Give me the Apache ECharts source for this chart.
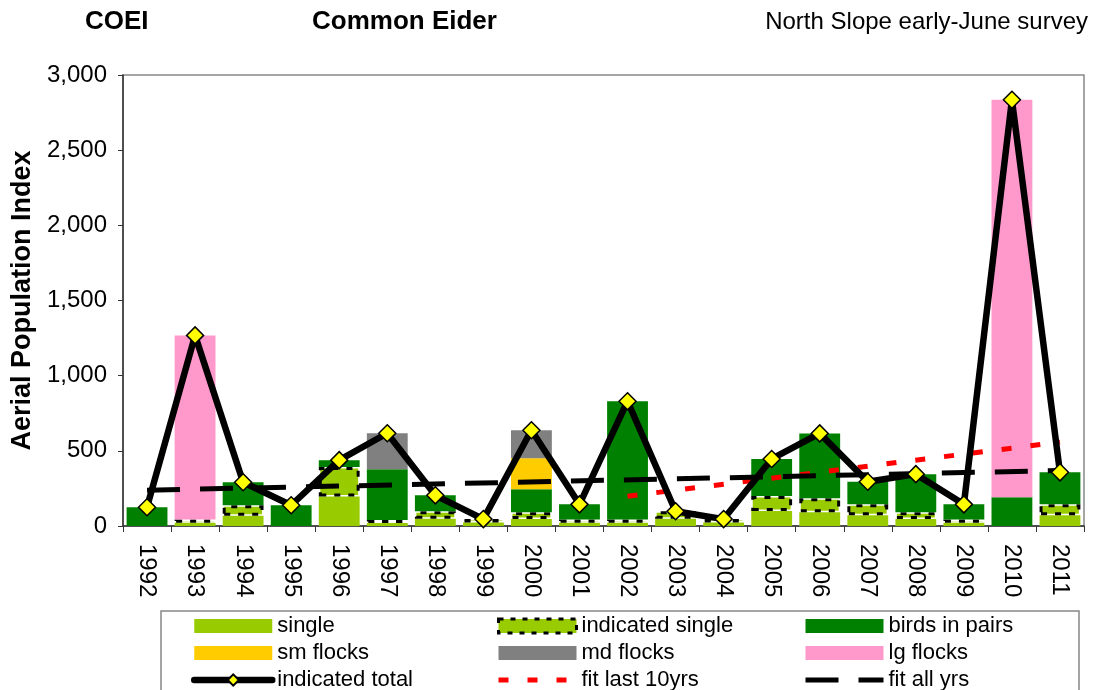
<!DOCTYPE html>
<html lang="en">
<head>
<meta charset="UTF-8">
<title>COEI Common Eider</title>
<script src="https://cdn.jsdelivr.net/npm/echarts@6/dist/echarts.min.js"></script>
<style>
    *{
        margin: 0;
        padding: 0;
    }
    #chart{
        width: 1094px;
        height: 690px;
        background: #fff;
    }
</style>
</head>
<body>
<div id="chart"></div>
<script>
var years = ['1992','1993','1994','1995','1996','1997','1998','1999','2000','2001',
             '2002','2003','2004','2005','2006','2007','2008','2009','2010','2011'];
var single     = [0, 22, 69, 0, 197, 20, 49, 23, 46, 22, 22, 49, 23, 100, 92, 72, 46, 22, 0, 72];
var indSingle  = [0, 22, 69, 0, 196, 20, 49, 23, 46, 22, 22, 49, 23, 100, 92, 72, 46, 22, 0, 72];
var pairs      = [125, 0, 153, 138, 44, 337, 106, 0, 152, 100, 786, 0, 0, 246, 432, 150, 253, 100, 191, 213];
var smFlocks   = [0, 0, 0, 0, 0, 0, 0, 0, 206, 0, 0, 0, 0, 0, 0, 0, 0, 0, 0, 0];
var mdFlocks   = [0, 0, 0, 0, 0, 240, 0, 0, 187, 0, 0, 0, 0, 0, 0, 0, 0, 0, 0, 0];
var lgFlocks   = [0, 1224, 0, 0, 0, 0, 0, 0, 0, 0, 0, 0, 0, 0, 0, 0, 0, 0, 2644, 0];
var indTotal   = [125, 1268, 291, 138, 438, 617, 204, 46, 637, 144, 830, 98, 46, 446, 616, 294, 345, 144, 2835, 357];
var fitLast10  = ['-','-','-','-','-','-','-','-','-','-', 198, '-','-','-','-','-','-','-','-', 558];
var fitAll     = [238, '-','-','-','-','-','-','-','-','-','-','-','-','-','-','-','-','-','-', 369];

var FONT = '"Liberation Sans", Arial, sans-serif';

function emptyZero(arr){
    return arr.map(function(v){ return v ? v : '-'; });
}
function commas(v){
    return String(v).replace(/\B(?=(\d{3})+(?!\d))/g, ',');
}
function barSeries(name, data, color, extra){
    var s = {
        type: 'bar',
        name: name,
        stack: 'all',
        data: emptyZero(data),
        barCategoryGap: '15%',
        itemStyle: { color: color },
        z: 2
    };
    if (extra) { for (var k in extra) { s.itemStyle[k] = extra[k]; } }
    return s;
}

var legendText = { fontFamily: FONT, fontSize: 22, color: '#000', lineHeight: 26 };
function legendCol(items, left){
    return {
        orient: 'vertical',
        left: left,
        top: 613,
        height: 100,
        itemWidth: 78,
        itemHeight: 14,
        itemGap: 1,
        padding: 0,
        textStyle: legendText,
        lineStyle: { width: 'inherit', type: 'inherit' },
        selectedMode: false,
        data: items
    };
}
// plain line icon: hide the default circle that ECharts adds for symbol-less lines
var noMark = { opacity: 0 };

var myChart = echarts.init(document.getElementById('chart'));
var option = {
    animation: false,
    backgroundColor: '#fff',
    textStyle: { fontFamily: FONT },
    title: [
        { text: 'COEI', left: 85, top: 9, padding: 0,
          textStyle: { fontFamily: FONT, fontSize: 26, fontWeight: 'bold', color: '#000' } },
        { text: 'Common Eider', left: 312, top: 9, padding: 0,
          textStyle: { fontFamily: FONT, fontSize: 26, fontWeight: 'bold', color: '#000' } },
        { text: 'North Slope early-June survey', right: 6, top: 10, padding: 0,
          textStyle: { fontFamily: FONT, fontSize: 24, fontWeight: 'normal', color: '#000' } }
    ],
    grid: {
        left: 123, right: 10, top: 75, bottom: 164,
        show: true, borderColor: '#888', borderWidth: 1.5
    },
    legend: [
        legendCol([
            { name: 'single', icon: 'rect' },
            { name: 'sm flocks', icon: 'rect' },
            { name: 'indicated total' }
        ], 191),
        legendCol([
            { name: 'indicated single', icon: 'rect',
              itemStyle: { color: '#99CC00', borderColor: '#000', borderWidth: 3, borderType: [5, 7] } },
            { name: 'md flocks', icon: 'rect' },
            { name: 'fit last 10yrs', itemStyle: noMark }
        ], 496),
        legendCol([
            { name: 'birds in pairs', icon: 'rect' },
            { name: 'lg flocks', icon: 'rect' },
            { name: 'fit all yrs', itemStyle: noMark }
        ], 803)
    ],
    graphic: [{
        type: 'rect',
        shape: { x: 161, y: 611, width: 918, height: 100 },
        style: { fill: 'none', stroke: '#888', lineWidth: 1.5 },
        z: -1
    }],
    xAxis: {
        type: 'category',
        data: years,
        boundaryGap: true,
        axisLine: { lineStyle: { color: '#333', width: 1.5 } },
        axisTick: { show: true, length: 6, lineStyle: { color: '#333' } },
        axisLabel: { rotate: -90, margin: 18, fontSize: 24, color: '#000', fontFamily: FONT }
    },
    yAxis: {
        type: 'value',
        min: 0,
        max: 3000,
        interval: 500,
        name: 'Aerial Population Index',
        nameLocation: 'middle',
        nameGap: 82,
        nameTextStyle: { fontFamily: FONT, fontSize: 27, fontWeight: 'bold', color: '#000' },
        splitLine: { show: false },
        axisLine: { show: true, lineStyle: { color: '#333', width: 1.5 } },
        axisTick: { show: true, length: 5, lineStyle: { color: '#333' } },
        axisLabel: { margin: 16, fontSize: 24, color: '#000', fontFamily: FONT, formatter: commas }
    },
    series: [
        barSeries('single', single, '#99CC00'),
        barSeries('indicated single', indSingle, '#99CC00',
            { borderColor: '#000', borderWidth: 3, borderType: [6, 8] }),
        barSeries('birds in pairs', pairs, '#008000'),
        barSeries('sm flocks', smFlocks, '#FFCC00'),
        barSeries('md flocks', mdFlocks, '#808080'),
        barSeries('lg flocks', lgFlocks, '#FF99CC'),
        {
            type: 'line',
            name: 'fit last 10yrs',
            data: fitLast10,
            connectNulls: true,
            symbol: 'none',
            lineStyle: { color: '#FF0000', width: 5, type: [10, 19], cap: 'butt' },
            itemStyle: { color: '#FF0000' },
            z: 3
        },
        {
            type: 'line',
            name: 'fit all yrs',
            data: fitAll,
            connectNulls: true,
            symbol: 'none',
            lineStyle: { color: '#000', width: 5, type: [33, 20], cap: 'butt' },
            itemStyle: { color: '#000' },
            z: 3
        },
        {
            type: 'line',
            name: 'indicated total',
            data: indTotal,
            symbol: 'diamond',
            symbolSize: 17,
            lineStyle: { color: '#000', width: 6.5, cap: 'round', join: 'round' },
            itemStyle: { color: '#FFFF00', borderColor: '#000', borderWidth: 1.5 },
            z: 4
        }
    ]
};
myChart.setOption(option);
</script>
</body>
</html>
